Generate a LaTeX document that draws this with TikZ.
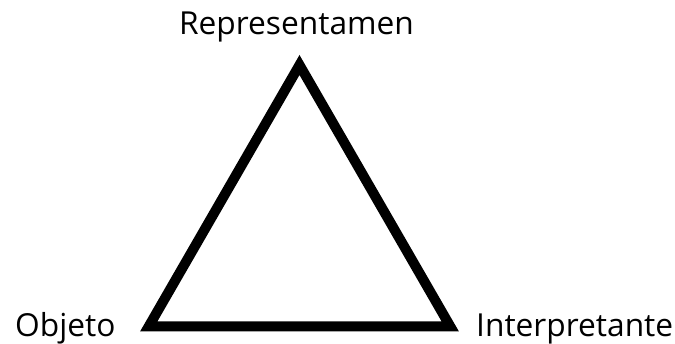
\documentclass[tikz,border=0pt]{standalone}
\usepackage{fontspec}
\setmainfont{Open Sans}
\usetikzlibrary{positioning}

\begin{document}
\begin{tikzpicture}[x=1pt,y=-1pt,
    lbl/.style={font=\fontsize{31.7}{36}\selectfont,inner sep=0pt,text=black},
    edge/.style={draw=black,line width=10pt,line join=miter}]
  \useasboundingbox (0,0) rectangle (675,344);
  % corners of the triangle
  \coordinate (rep) at (299.5,65);
  \coordinate (obj) at (148.7,326.5);
  \coordinate (int) at (450.3,326.5);
  \draw[edge] (rep) -- (obj) -- (int) -- cycle;
  % labels
  \node[lbl,anchor=base]      (repl) at (296.5,35) {Representamen};
  \node[lbl,anchor=base west] (objl) at (15,337)   {Objeto};
  \node[lbl,anchor=base west] (intl) at (476,337)  {Interpretante};
\end{tikzpicture}
\end{document}
